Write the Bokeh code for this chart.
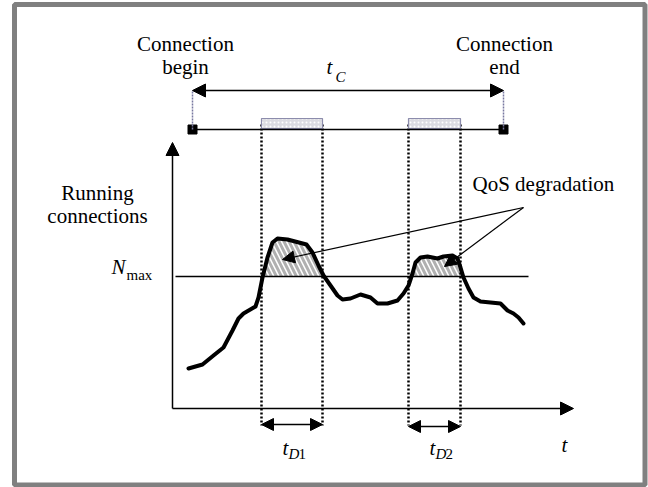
import numpy as np
from bokeh.plotting import figure
from bokeh.models import Range1d, Arrow, NormalHead, Label
from bokeh.embed import file_html
from bokeh.resources import INLINE

# ---------------- data (chart units: t along x, connections along y) ----------------
curve_t = [16, 30, 41, 51, 60, 66, 71, 83, 86, 90, 95, 100, 105, 115, 134, 140, 146, 151,
           158, 165, 170, 178, 188, 198, 205, 215, 225, 231, 236, 240, 243, 248, 255, 265,
           271, 280, 285, 288, 291, 296, 301, 308, 318, 328, 335, 341, 346, 351]
curve_n = [40, 44, 53, 61, 78, 90, 95, 102, 111, 131, 151, 166, 170, 169, 164, 156, 143, 133,
           123, 113, 109, 110, 114, 111, 105, 105, 108, 115, 123, 135, 146, 151, 152, 150,
           152, 153, 150, 141, 131, 120, 111, 107, 106, 105, 98, 95, 91, 85]
n_max = 132
window_start = [89, 236]
window_end = [150, 288]
conn_begin = 20
conn_end = 331
window_labels = ["D1", "D2"]

FONT = "Times New Roman"

p = figure(width=648, height=487, x_range=Range1d(-172, 476), y_range=Range1d(-79, 408),
           output_backend="svg", toolbar_location=None, min_border=0)
p.axis.visible = False
p.grid.visible = False
p.outline_line_color = None
p.background_fill_color = "white"
p.border_fill_color = "white"

# outer gray frame
p.quad(left=[-158], right=[472.5], bottom=[-76.5], top=[404], fill_color=None,
       line_color="#808080", line_width=5)

# hatched degradation areas
for a, b in zip(window_start, window_end):
    tt = np.linspace(a - 3, b + 3, 300)
    nn = np.interp(tt, curve_t, curve_n)
    top = np.maximum(nn, n_max)
    p.varea(x=tt, y1=np.full_like(tt, n_max), y2=top, fill_color=None,
            hatch_pattern="left_diagonal_line", hatch_color="#b0b0b0",
            hatch_weight=3, hatch_scale=10)

# Nmax line
p.line([3, 356], [n_max, n_max], line_color="black", line_width=1.5)

# axes with arrows
p.add_layout(Arrow(end=NormalHead(size=13, fill_color="black", line_color="black"),
                   x_start=0, y_start=0, x_end=0, y_end=266, line_width=1.5))
p.add_layout(Arrow(end=NormalHead(size=13, fill_color="black", line_color="black"),
                   x_start=0, y_start=0, x_end=401, y_end=0, line_width=1.5))

# dotted window boundaries
for a, b in zip(window_start, window_end):
    for xv in (a, b):
        p.line([xv, xv], [284, -17], line_color="black", line_width=2.5, line_dash="2 2")

# shaded window boxes on timeline
p.quad(left=window_start, right=window_end, bottom=[280, 280], top=[290, 290],
       fill_color="#dcdce2", line_color="#8c8cac", line_width=1.2,
       hatch_pattern="dot", hatch_color="white", hatch_scale=4, hatch_weight=1)

# timeline
p.line([conn_begin, conn_end], [279, 279], line_color="black", line_width=1.3)
p.scatter([conn_begin, conn_end], [279, 279], marker="square", size=9,
          fill_color="black", line_color="black")
for xv in (conn_begin, conn_end):
    p.line([xv, xv], [279, 318], line_color="#7878a0", line_width=1.5, line_dash="2 1")
p.add_layout(Arrow(start=NormalHead(size=13, fill_color="black", line_color="black"),
                   end=NormalHead(size=13, fill_color="black", line_color="black"),
                   x_start=conn_begin, y_start=318, x_end=conn_end, y_end=318, line_width=1.5))

# duration arrows
for a, b, yy in zip(window_start, window_end, [-16, -18]):
    p.add_layout(Arrow(start=NormalHead(size=12, fill_color="black", line_color="black"),
                       end=NormalHead(size=12, fill_color="black", line_color="black"),
                       x_start=a, y_start=yy, x_end=b, y_end=yy, line_width=1.5))

# connections curve
p.line(curve_t, curve_n, line_color="black", line_width=4, line_join="round", line_cap="round")

# QoS degradation pointers
p.add_layout(Arrow(end=NormalHead(size=12, fill_color="black", line_color="black"),
                   x_start=351, y_start=201, x_end=110, y_end=149, line_width=1.2))
p.add_layout(Arrow(end=NormalHead(size=12, fill_color="black", line_color="black"),
                   x_start=351, y_start=201, x_end=272, y_end=142, line_width=1.2))

# texts
def txt(x, y, s, size="21px", style="normal", align="center"):
    p.add_layout(Label(x=x, y=y, text=s, text_font=FONT, text_font_size=size,
                       text_font_style=style, text_align=align, text_baseline="middle",
                       text_color="black"))

txt(13, 365, "Connection")
txt(13, 342, "begin")
txt(332, 365, "Connection")
txt(332, 342, "end")
txt(157, 342, "t", style="italic")
txt(168, 332, "C", size="15px", style="italic")
txt(-75, 216, "Running")
txt(-75, 193, "connections")
txt(-47, 142, "N", style="italic", align="right")
txt(-46, 134, "max", size="15px", align="left")
txt(300, 225, "QoS degradation", align="left")
txt(392, -36, "t", style="italic")
for a, lab in zip(window_start, window_labels):
    txt(a + 24, -39, "t", style="italic")
    txt(a + 27, -45, lab[0], size="15px", style="italic", align="left")
    txt(a + 37, -45, lab[1], size="15px", align="left")

open("out.html", "w").write(file_html(p, INLINE))
